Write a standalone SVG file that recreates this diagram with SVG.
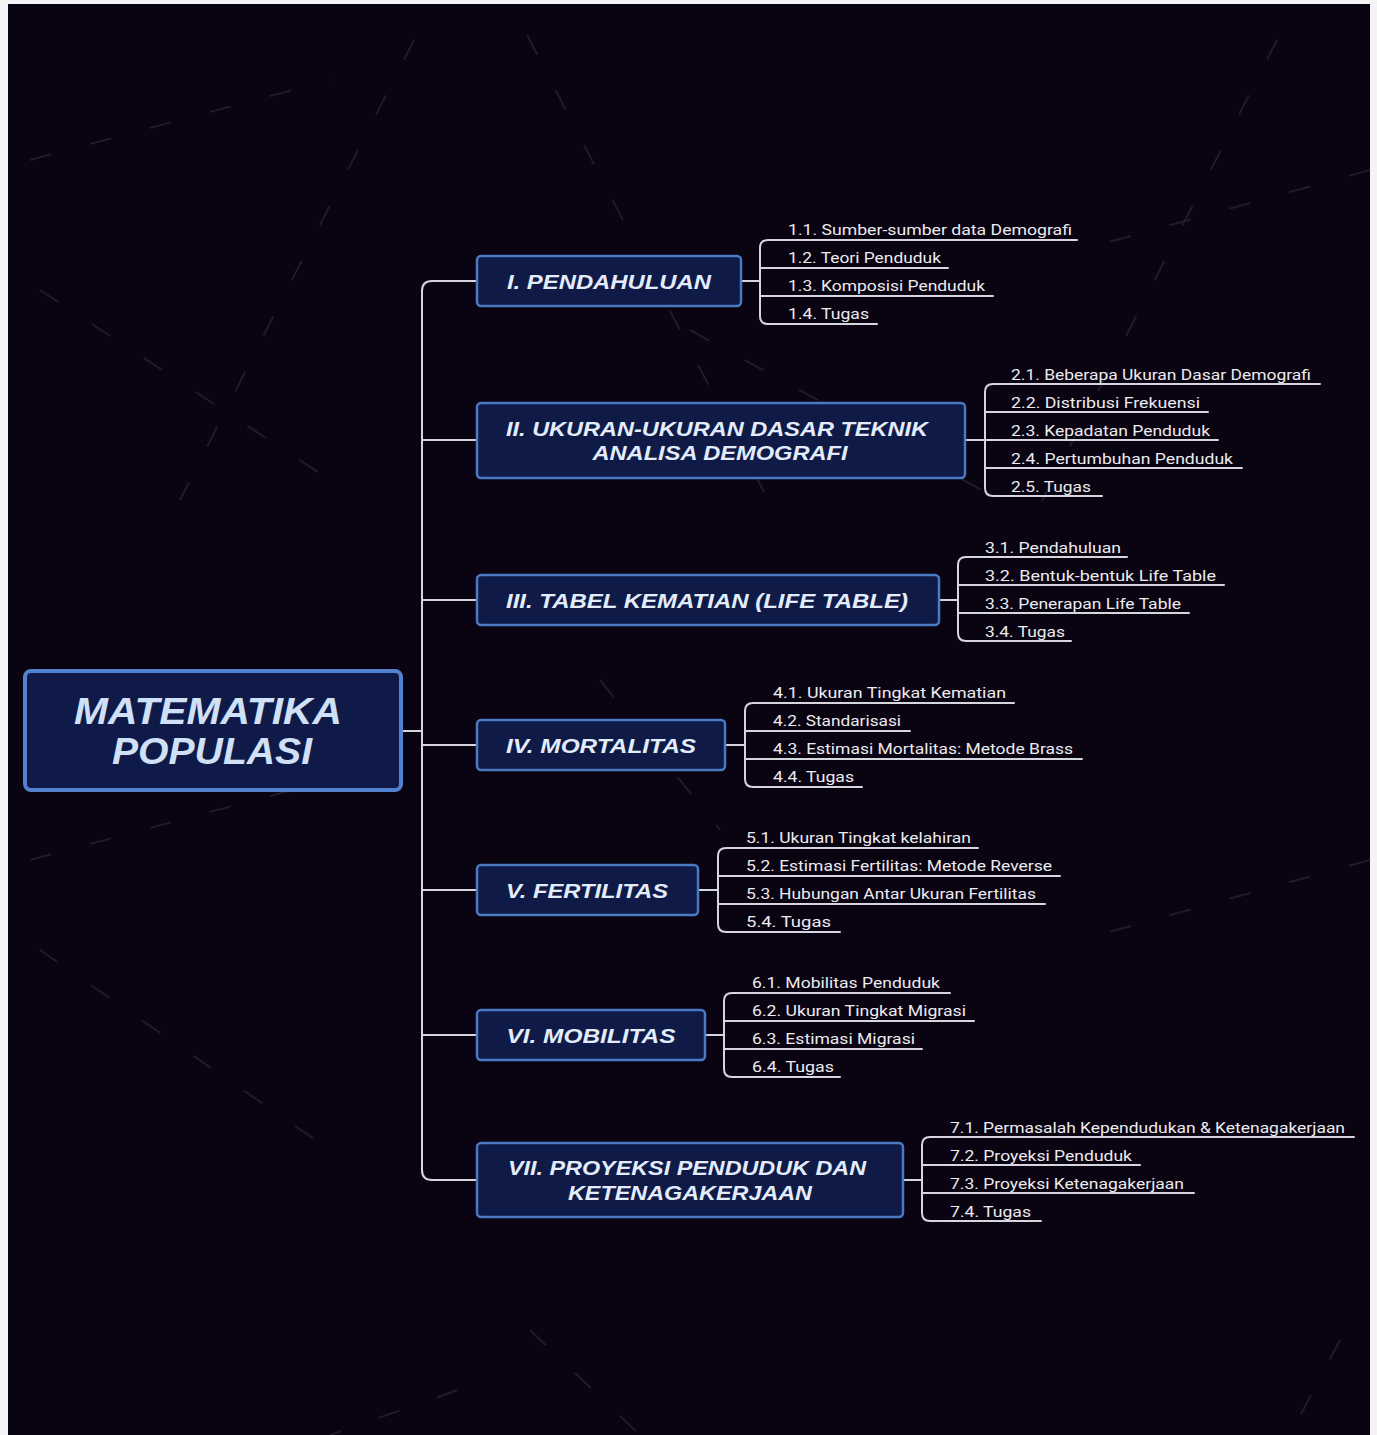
<svg xmlns="http://www.w3.org/2000/svg" width="1377" height="1435" viewBox="0 0 1377 1435">
<style>
.bg{fill:#0a0311}
.wm{stroke:#211a28;stroke-width:2;stroke-dasharray:22 40;fill:none}
.root rect{fill:#101a48;stroke:#5282cf;stroke-width:4}
.topic rect{fill:#0f1a47;stroke:#4a7ac4;stroke-width:2.5}
.rt{font-family:"Liberation Sans",Arial,sans-serif;font-weight:bold;font-style:italic;font-size:37px;fill:#cfe0f7;text-anchor:middle}
.tt{font-family:"Liberation Sans",Arial,sans-serif;font-weight:bold;font-style:italic;font-size:21px;fill:#e2ecfb;text-anchor:middle}
.lt{font-family:Roboto,"Liberation Sans",sans-serif;font-size:14px;fill:#ecebf0}
.cn path{fill:none;stroke:#d6d6de;stroke-width:2;stroke-linecap:round}
</style>
<rect x="0" y="0" width="1377" height="1435" fill="#f4f4f6"/>
<rect class="bg" x="8" y="4" width="1362" height="1431"/>
<g id="watermark">
<path class="wm" d="M414 40 L180 500"/>
<path class="wm" d="M527 35 L764 492"/>
<path class="wm" d="M1277 40 L1040 505"/>
<path class="wm" d="M40 290 L330 480"/>
<path class="wm" d="M690 330 L1000 500"/>
<path class="wm" d="M40 950 L330 1150"/>
<path class="wm" d="M600 680 L720 830"/>
<path class="wm" d="M458 1390 L330 1435"/>
<path class="wm" d="M530 1330 L640 1435"/>
<path class="wm" d="M1340 1340 L1290 1435"/>
<path class="wm" d="M30 160 L330 80"/>
<path class="wm" d="M30 860 L330 780"/>
<path class="wm" d="M1370 170 L1080 250"/>
<path class="wm" d="M1370 860 L1080 940"/>
</g>
<g id="connectors" class="cn">
<path d="M402 731 H422"/>
<path d="M477 281 H432 Q422 281 422 291 V1170 Q422 1180 432 1180 H477"/>
<path d="M422 440 H477"/>
<path d="M422 600 H477"/>
<path d="M422 745 H477"/>
<path d="M422 890 H477"/>
<path d="M422 1035 H477"/>
<path d="M741 281 H760"/>
<path d="M1077 240 H768 Q760 240 760 248 V316 Q760 324 768 324 H877"/>
<path d="M760 268 H948"/>
<path d="M760 296 H993"/>
<path d="M965 440 H985"/>
<path d="M1320 384 H993 Q985 384 985 392 V488 Q985 496 993 496 H1102"/>
<path d="M985 412 H1208"/>
<path d="M985 440 H1218"/>
<path d="M985 468 H1242"/>
<path d="M939 600 H958"/>
<path d="M1127 557 H966 Q958 557 958 565 V633 Q958 641 966 641 H1071"/>
<path d="M958 585 H1224"/>
<path d="M958 613 H1189"/>
<path d="M725 745 H745"/>
<path d="M1014 703 H753 Q745 703 745 711 V779 Q745 787 753 787 H862"/>
<path d="M745 731 H910"/>
<path d="M745 759 H1082"/>
<path d="M698 890 H718"/>
<path d="M978 848 H726 Q718 848 718 856 V924 Q718 932 726 932 H840"/>
<path d="M718 876 H1060"/>
<path d="M718 904 H1045"/>
<path d="M705 1035 H724"/>
<path d="M950 993 H732 Q724 993 724 1001 V1069 Q724 1077 732 1077 H840"/>
<path d="M724 1021 H974"/>
<path d="M724 1049 H922"/>
<path d="M903 1180 H922"/>
<path d="M1354 1137 H930 Q922 1137 922 1145 V1213 Q922 1221 930 1221 H1041"/>
<path d="M922 1165 H1140"/>
<path d="M922 1193 H1194"/>
</g>
<g id="root" class="root">
<rect x="25" y="671" width="376" height="119" rx="6"/>
<text class="rt" x="208" y="724" textLength="268" lengthAdjust="spacingAndGlyphs">MATEMATIKA</text>
<text class="rt" x="212" y="764" textLength="200" lengthAdjust="spacingAndGlyphs">POPULASI</text>
</g>
<g id="t1" class="topic">
<rect x="477" y="256" width="264" height="50" rx="4"/>
<text class="tt" x="609" y="288.5" textLength="204" lengthAdjust="spacingAndGlyphs">I. PENDAHULUAN</text>
</g>
<g id="t2" class="topic">
<rect x="477" y="403" width="488" height="75" rx="4"/>
<text class="tt" x="717" y="435.5" textLength="422" lengthAdjust="spacingAndGlyphs">II. UKURAN-UKURAN DASAR TEKNIK</text>
<text class="tt" x="720" y="459.5" textLength="255" lengthAdjust="spacingAndGlyphs">ANALISA DEMOGRAFI</text>
</g>
<g id="t3" class="topic">
<rect x="477" y="575" width="462" height="50" rx="4"/>
<text class="tt" x="707" y="607.5" textLength="402" lengthAdjust="spacingAndGlyphs">III. TABEL KEMATIAN (LIFE TABLE)</text>
</g>
<g id="t4" class="topic">
<rect x="477" y="720" width="248" height="50" rx="4"/>
<text class="tt" x="601" y="752.5" textLength="190" lengthAdjust="spacingAndGlyphs">IV. MORTALITAS</text>
</g>
<g id="t5" class="topic">
<rect x="477" y="865" width="221" height="50" rx="4"/>
<text class="tt" x="587" y="897.5" textLength="162" lengthAdjust="spacingAndGlyphs">V. FERTILITAS</text>
</g>
<g id="t6" class="topic">
<rect x="477" y="1010" width="228" height="50" rx="4"/>
<text class="tt" x="591" y="1042.5" textLength="169" lengthAdjust="spacingAndGlyphs">VI. MOBILITAS</text>
</g>
<g id="t7" class="topic">
<rect x="477" y="1143" width="426" height="74" rx="4"/>
<text class="tt" x="687" y="1174.5" textLength="358" lengthAdjust="spacingAndGlyphs">VII. PROYEKSI PENDUDUK DAN</text>
<text class="tt" x="690" y="1199.5" textLength="244" lengthAdjust="spacingAndGlyphs">KETENAGAKERJAAN</text>
</g>
<g id="leaves1">
<text class="lt" x="788" y="235" textLength="284" lengthAdjust="spacingAndGlyphs">1.1. Sumber-sumber data Demografi</text>
<text class="lt" x="788" y="263" textLength="153" lengthAdjust="spacingAndGlyphs">1.2. Teori Penduduk</text>
<text class="lt" x="788" y="291" textLength="197" lengthAdjust="spacingAndGlyphs">1.3. Komposisi Penduduk</text>
<text class="lt" x="788" y="319" textLength="81" lengthAdjust="spacingAndGlyphs">1.4. Tugas</text>
</g>
<g id="leaves2">
<text class="lt" x="1011" y="380" textLength="300" lengthAdjust="spacingAndGlyphs">2.1. Beberapa Ukuran Dasar Demografi</text>
<text class="lt" x="1011" y="408" textLength="189" lengthAdjust="spacingAndGlyphs">2.2. Distribusi Frekuensi</text>
<text class="lt" x="1011" y="436" textLength="199" lengthAdjust="spacingAndGlyphs">2.3. Kepadatan Penduduk</text>
<text class="lt" x="1011" y="464" textLength="222" lengthAdjust="spacingAndGlyphs">2.4. Pertumbuhan Penduduk</text>
<text class="lt" x="1011" y="492" textLength="80" lengthAdjust="spacingAndGlyphs">2.5. Tugas</text>
</g>
<g id="leaves3">
<text class="lt" x="985" y="553" textLength="136" lengthAdjust="spacingAndGlyphs">3.1. Pendahuluan</text>
<text class="lt" x="985" y="581" textLength="231" lengthAdjust="spacingAndGlyphs">3.2. Bentuk-bentuk Life Table</text>
<text class="lt" x="985" y="609" textLength="196" lengthAdjust="spacingAndGlyphs">3.3. Penerapan Life Table</text>
<text class="lt" x="985" y="637" textLength="80" lengthAdjust="spacingAndGlyphs">3.4. Tugas</text>
</g>
<g id="leaves4">
<text class="lt" x="773" y="698" textLength="233" lengthAdjust="spacingAndGlyphs">4.1. Ukuran Tingkat  Kematian</text>
<text class="lt" x="773" y="726" textLength="128" lengthAdjust="spacingAndGlyphs">4.2. Standarisasi</text>
<text class="lt" x="773" y="754" textLength="300" lengthAdjust="spacingAndGlyphs">4.3. Estimasi Mortalitas: Metode Brass</text>
<text class="lt" x="773" y="782" textLength="81" lengthAdjust="spacingAndGlyphs">4.4. Tugas</text>
</g>
<g id="leaves5">
<text class="lt" x="746" y="843" textLength="225" lengthAdjust="spacingAndGlyphs">5.1. Ukuran Tingkat kelahiran</text>
<text class="lt" x="746" y="871" textLength="306" lengthAdjust="spacingAndGlyphs">5.2. Estimasi Fertilitas: Metode Reverse</text>
<text class="lt" x="746" y="899" textLength="290" lengthAdjust="spacingAndGlyphs">5.3. Hubungan Antar Ukuran Fertilitas</text>
<text class="lt" x="746" y="927" textLength="85" lengthAdjust="spacingAndGlyphs">5.4.  Tugas</text>
</g>
<g id="leaves6">
<text class="lt" x="752" y="988" textLength="188" lengthAdjust="spacingAndGlyphs">6.1. Mobilitas Penduduk</text>
<text class="lt" x="752" y="1016" textLength="214" lengthAdjust="spacingAndGlyphs">6.2. Ukuran Tingkat Migrasi</text>
<text class="lt" x="752" y="1044" textLength="163" lengthAdjust="spacingAndGlyphs">6.3. Estimasi Migrasi</text>
<text class="lt" x="752" y="1072" textLength="82" lengthAdjust="spacingAndGlyphs">6.4. Tugas</text>
</g>
<g id="leaves7">
<text class="lt" x="950" y="1133" textLength="395" lengthAdjust="spacingAndGlyphs">7.1. Permasalah Kependudukan &amp; Ketenagakerjaan</text>
<text class="lt" x="950" y="1161" textLength="182" lengthAdjust="spacingAndGlyphs">7.2. Proyeksi Penduduk</text>
<text class="lt" x="950" y="1189" textLength="234" lengthAdjust="spacingAndGlyphs">7.3. Proyeksi Ketenagakerjaan</text>
<text class="lt" x="950" y="1217" textLength="81" lengthAdjust="spacingAndGlyphs">7.4. Tugas</text>
</g>
</svg>
